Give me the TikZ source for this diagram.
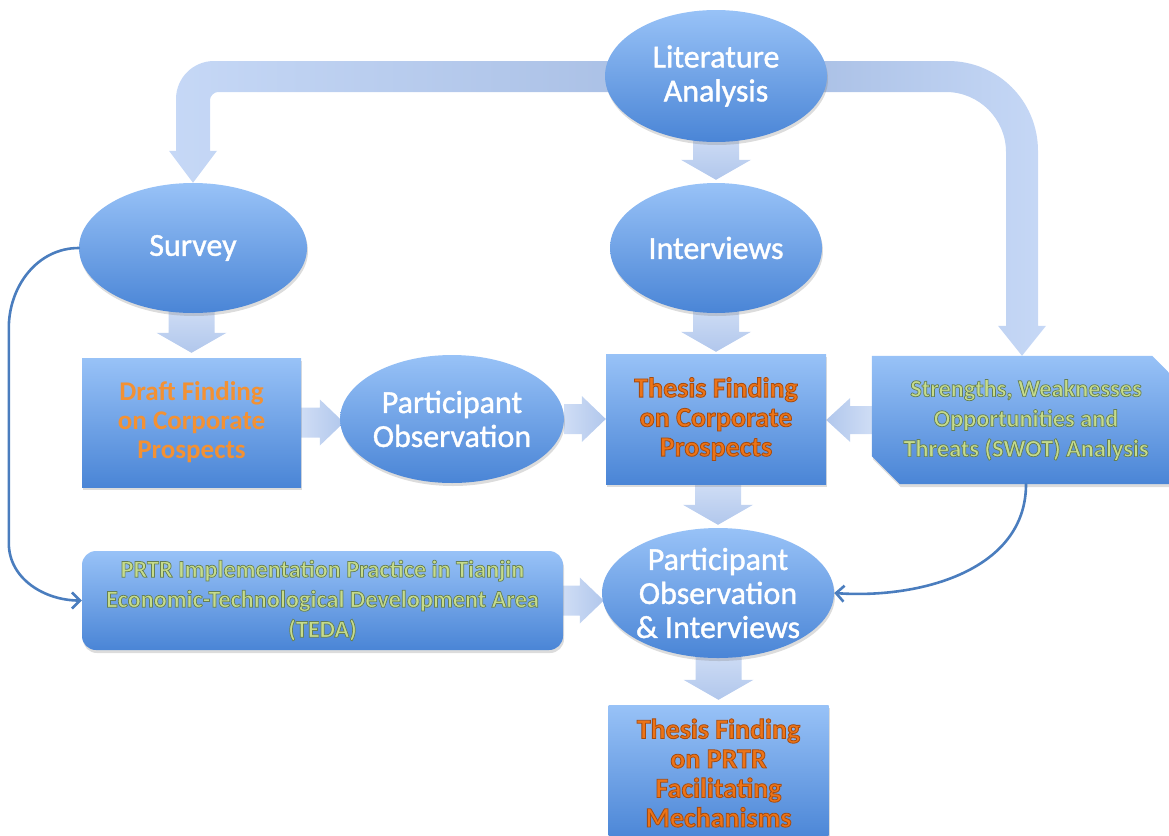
\documentclass[tikz,border=0pt]{standalone}
\usepackage{fontspec}
\setmainfont{Carlito}
\newfontfamily\olfont{Carlito}[BoldFeatures={FakeBold=3}]
\newfontfamily\ovfont{Carlito}[FakeBold=1.2]
\newcommand\olA{\special{pdf:literal direct 0.66 0.30 0.06 RG}}
\newcommand\olG{\special{pdf:literal direct 0.40 0.50 0.32 RG}}
\usetikzlibrary{shapes.geometric,calc,shadows,arrows.meta}
\definecolor{btop}{HTML}{98C2F7}
\definecolor{bbot}{HTML}{4A85D6}
\definecolor{atail}{HTML}{CFDDF5}
\definecolor{ahead}{HTML}{B1C7EC}
\definecolor{bentlight}{HTML}{C6D8F6}
\definecolor{bentdark}{HTML}{ABC1E6}
\definecolor{orangeA}{HTML}{F39133}
\definecolor{orangeB}{HTML}{EC7418}
\definecolor{greenT}{HTML}{C6DC8C}
\definecolor{lineblue}{HTML}{4A7DBE}
\pgfdeclarelayer{background}
\pgfsetlayers{background,main}
\tikzset{
  shade blue/.style={top color=btop, bottom color=bbot, draw=none},
  shadowed/.style={drop shadow={opacity=0.28, shadow xshift=1pt, shadow yshift=-3pt}},
  oval/.style={ellipse, shade blue, shadowed, inner sep=0pt, align=center,
    text=white, font=\ovfont\fontsize{32}{34}\selectfont},
  boxnode/.style={rectangle, shade blue, shadowed, inner sep=0pt, align=center,
    font=\bfseries\fontsize{27}{29}\selectfont},
  thesisbox/.style={boxnode, text=orangeB, font=\olfont\bfseries\fontsize{28}{29.5}\selectfont},
  greentext/.style={text=greenT, align=center, inner sep=0pt,
    font=\olfont\bfseries\fontsize{24.3}{30}\selectfont},
  varrowstyle/.style={top color=atail, bottom color=ahead, draw=none},
  rarrowstyle/.style={left color=atail, right color=ahead, draw=none},
  larrowstyle/.style={left color=ahead, right color=atail, draw=none},
  thinarrow/.style={draw=lineblue, line width=2.6pt, line cap=round,
    -{Straight Barb[length=8pt,width=16pt,line width=2.6pt]}},
}
% block arrow pointing down: tail (#1) above tip (#2)
\newcommand\darrow[2]{\path[varrowstyle] let \p1=(#1), \p2=(#2) in
  (\x2-23pt,\y1) -- (\x2+23pt,\y1) -- (\x2+23pt,\y2+20pt) -- (\x2+35pt,\y2+20pt)
  -- (\x2,\y2) -- (\x2-35pt,\y2+20pt) -- (\x2-23pt,\y2+20pt) -- cycle;}
% block arrow pointing right
\newcommand\rarrow[2]{\path[rarrowstyle] let \p1=(#1), \p2=(#2) in
  (\x1,\y1+15pt) -- (\x2-24pt,\y1+15pt) -- (\x2-24pt,\y1+23pt) -- (\x2,\y1)
  -- (\x2-24pt,\y1-23pt) -- (\x2-24pt,\y1-15pt) -- (\x1,\y1-15pt) -- cycle;}
% block arrow pointing left
\newcommand\larrow[2]{\path[larrowstyle] let \p1=(#1), \p2=(#2) in
  (\x1,\y1+14pt) -- (\x2+24pt,\y1+14pt) -- (\x2+24pt,\y1+22pt) -- (\x2,\y1)
  -- (\x2+24pt,\y1-22pt) -- (\x2+24pt,\y1-14pt) -- (\x1,\y1-14pt) -- cycle;}
\begin{document}
\begin{tikzpicture}[x=1pt,y=-1pt]
\useasboundingbox (0,0) rectangle (1169,835);

% ---------------- nodes ----------------
\node[oval, minimum width=222, minimum height=132] (lit) at (716,76) {Literature\\Analysis};
\node[oval, minimum width=228, minimum height=130] (survey) at (193,248) {Survey};
\node[oval, minimum width=212, minimum height=130] (int) at (716,248) {Interviews};
\node[boxnode, text=orangeA, minimum width=219, minimum height=129] (draft) at (191.5,422.5)
  {Draft Finding\\on Corporate\\Prospects};
\node[oval, minimum width=219, minimum height=128] (po) at (452,419) {Participant\\Observation};
\node[thesisbox, minimum width=220, minimum height=130] (thesis) at (716,419)
  {\olA Thesis Finding\\\olA on Corporate\\\olA Prospects};
\node[greentext, minimum width=308, minimum height=128] (swot) at (1026,420)
  {\olG Strengths, Weaknesses\\\olG Opportunities and\\\olG Threats (SWOT) Analysis};
\node[oval, minimum width=220, minimum height=130] (poi) at (718,593)
  {Participant\\Observation\\\& Interviews};
\node[greentext, rectangle, rounded corners=14pt, shade blue, shadowed,
  minimum width=481, minimum height=99] (prtr) at (322.5,600.5)
  {\olG PRTR Implementation Practice in Tianjin\\\olG Economic-Technological Development Area\\\olG (TEDA)};
\node[thesisbox, minimum width=220, minimum height=136] (final) at (718.5,773)
  {\olA Thesis Finding\\\olA on PRTR\\\olA Facilitating\\\olA Mechanisms};

% ---------------- background connectors ----------------
\begin{pgfonlayer}{background}
% bent arrow to Survey
\path[left color=bentlight, right color=bentdark, draw=none]
  let \p1=(lit.west), \p2=(survey.north) in
  (\x1+12pt,\y1+15pt) -- (\x2+21pt,\y1+15pt)
  .. controls (\x2,\y1+15pt) and (\x2-17pt,\y1-2pt) .. (\x2-17pt,\y1-23pt)
  -- (\x2-17pt,\y2+32pt) -- (\x2-24pt,\y2+32pt) -- (\x2,\y2)
  -- (\x2+24pt,\y2+32pt) -- (\x2+17pt,\y2+32pt) -- (\x2+17pt,\y1-24pt)
  .. controls (\x2+17pt,\y1-20pt) and (\x2+21pt,\y1-16pt) .. (\x2+25pt,\y1-16pt)
  -- (\x1+12pt,\y1-16pt) -- cycle;
% bent arrow to SWOT
\path[left color=bentdark, right color=bentlight, draw=none]
  let \p1=(lit.east), \p2=(swot.north), \p3=($(swot.north)+(-4,0)$) in
  (\x1-12pt,\y1+15pt) -- (\x3-74pt,\y1+15pt)
  .. controls (\x3-24pt,\y1+15pt) and (\x3+16pt,\y1-25pt) .. (\x3+16pt,\y1-75pt)
  -- (\x3+16pt,\y2+30pt) -- (\x3+24pt,\y2+30pt) -- (\x3,\y2)
  -- (\x3-24pt,\y2+30pt) -- (\x3-16pt,\y2+30pt) -- (\x3-16pt,\y1-76pt)
  .. controls (\x3-16pt,\y1-43pt) and (\x3-43pt,\y1-16pt) .. (\x3-76pt,\y1-16pt)
  -- (\x1-12pt,\y1-16pt) -- cycle;
% straight block arrows
\darrow{$(lit.south)+(0,-8)$}{$(int.north)+(0,-3)$}
\darrow{$(survey.south)+(0,-6)$}{$(draft.north)+(0,-5)$}
\darrow{$(int.south)+(0,-6)$}{$(thesis.north)+(0,-2)$}
\darrow{thesis.south}{$(poi.north)+(0,-3)$}
\darrow{$(poi.south)+(0,-6)$}{$(final.north)+(0,-5)$}
\rarrow{draft.east}{$(po.west)+(4,0)$}
\rarrow{po.east}{thesis.west}
\larrow{swot.west}{thesis.east}
\rarrow{prtr.east}{$(poi.west)+(2,0)$}
% SWOT snipped box
\path[shade blue, shadowed] (swot.north west) -- ($(swot.north east)+(-28,0)$)
  -- ($(swot.north east)+(0,28)$) -- (swot.south east)
  -- ($(swot.south west)+(28,0)$) -- ($(swot.south west)+(0,-28)$) -- cycle;
\end{pgfonlayer}

% ---------------- thin curved connectors ----------------
\draw[thinarrow] (survey.west) to[out=180,in=90] ++(-70,80) -- ++(0,215)
  to[out=-90,in=180] (prtr.west);
\draw[thinarrow] (swot.south) to[out=-90,in=-4] (poi.east);
\end{tikzpicture}
\end{document}
